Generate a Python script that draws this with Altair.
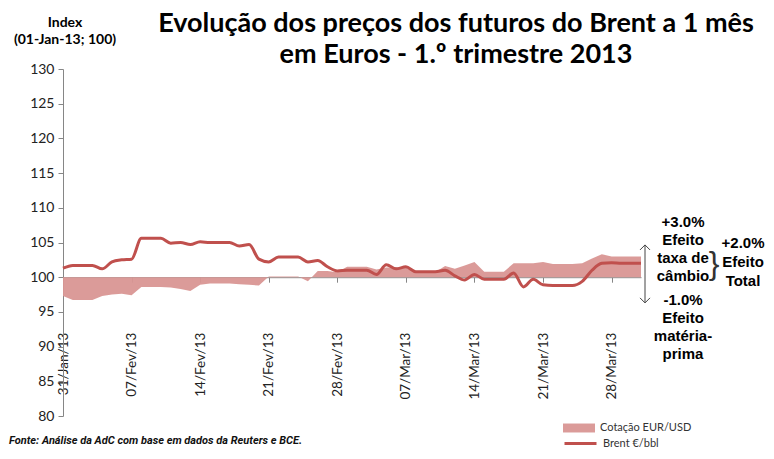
import altair as alt
import pandas as pd

# ---------------- data ----------------
dates = pd.date_range("2013-01-31", "2013-03-31", freq="D").strftime("%Y-%m-%d").tolist()

# Brent EUR/bbl index (01-Jan-13 = 100), daily; weekends repeat Friday's value
brent = [
    101.3, 101.7, 101.7, 101.7, 101.2, 102.2, 102.5, 102.6,   # 31 Jan - 07 Feb
    105.6, 105.6, 105.6, 104.9, 105.0, 104.7, 105.1,          # 08 Feb - 14 Feb
    105.0, 105.0, 105.0, 104.5, 104.7, 102.6, 102.2,          # 15 Feb - 21 Feb
    102.9, 102.9, 102.9, 102.2, 102.4, 101.5, 100.9,          # 22 Feb - 28 Feb
    101.0, 101.0, 101.0, 100.4, 101.8, 101.2, 101.5,          # 01 Mar - 07 Mar
    100.8, 100.8, 100.8, 101.0, 100.2, 99.6, 100.4,           # 08 Mar - 14 Mar
    99.7, 99.7, 99.7, 100.6, 98.6, 99.7, 98.9,                # 15 Mar - 21 Mar
    98.8, 98.8, 98.8, 99.4, 101.0, 102.0, 102.1,              # 22 Mar - 28 Mar
    102.0, 102.0, 102.0,                                      # 29 Mar - 31 Mar
]

# EUR/USD quote index (01-Jan-13 = 100)
eurusd = [
    97.3, 96.7, 96.7, 96.7, 97.3, 97.5, 97.6, 97.4,
    98.6, 98.6, 98.6, 98.5, 98.3, 98.0, 98.9,
    99.1, 99.1, 99.1, 99.0, 98.9, 98.8, 100.1,
    100.1, 100.1, 100.1, 99.4, 100.9, 100.9, 100.7,
    101.5, 101.5, 101.5, 101.1, 101.4, 101.4, 101.4,
    100.7, 100.7, 100.7, 101.6, 101.2, 101.7, 102.2,
    100.8, 100.8, 100.8, 102.0, 102.0, 102.0, 102.2,
    101.9, 101.9, 101.9, 102.0, 102.7, 103.3, 103.0,
    103.0, 103.0, 103.0,
]

tick_days = [(1, 31), (2, 7), (2, 14), (2, 21), (2, 28), (3, 7), (3, 14), (3, 21), (3, 28)]
y_ticks = [80, 85, 90, 95, 100, 105, 110, 115, 120, 125, 130]

series_area = "Cotação EUR/USD"
series_line = "Brent €/bbl"

title_lines = "Evolução dos preços dos futuros do Brent a 1 mês\nem Euros - 1.º trimestre 2013"
ytitle_lines = "Index\n(01-Jan-13; 100)"
fx_text = "+3.0%\nEfeito\ntaxa de\ncâmbio"
raw_text = "-1.0%\nEfeito\nmatéria-\nprima"
total_text = "+2.0%\nEfeito\nTotal"
source_text = "Fonte: Análise da AdC com base em dados da Reuters e BCE."

df = pd.DataFrame({"date": dates, "brent": brent, "eurusd": eurusd})
one = pd.DataFrame({"k": [0]})

W, H = 578, 347
RED = "#C0504D"
PINK = "#D99694"
AXIS_GREY = "#868686"

x_scale = alt.Scale(
    type="utc",
    domain=[alt.DateTime(year=2013, month=1, date=31, utc=True),
            alt.DateTime(year=2013, month=3, date=31, utc=True)],
)
y_scale = alt.Scale(domain=[80, 130], nice=False, zero=False)

x_axis = alt.Axis(
    values=[alt.DateTime(year=2013, month=m, date=d, utc=True) for m, d in tick_days],
    labelExpr="utcFormat(datum.value, '%d') + '/' + ['Jan','Fev','Mar','Abr'][utcmonth(datum.value)] + '/' + utcFormat(datum.value, '%y')",
    offset=-H * (100 - 80) / (130 - 80),
    domainColor=AXIS_GREY, tickColor=AXIS_GREY, tickSize=5,
    labelAngle=270, labelPadding=50, labelFont="Lato", labelFontSize=13.5,
    labelColor="#222222", labelOverlap=False, labelFlush=False,
    grid=False, title=None,
)
y_axis = alt.Axis(
    values=y_ticks, domainColor=AXIS_GREY, tickColor=AXIS_GREY, tickSize=5,
    labelFont="Lato", labelFontSize=14, labelColor="#222222", labelPadding=4,
    labelOverlap=False, labelFlush=False, grid=False, title=None,
)

X = alt.X("date:T", scale=x_scale, axis=x_axis)

area = alt.Chart(df).transform_calculate(s=f"'{series_area}'").mark_area(
    interpolate="linear", opacity=0.95
).encode(
    x=X,
    y=alt.Y("eurusd:Q", scale=y_scale, axis=y_axis),
    y2=alt.datum(100),
    fill=alt.Fill("s:N", scale=alt.Scale(domain=[series_area], range=[PINK]),
                  legend=alt.Legend(orient="none", legendX=500, legendY=343, title=None,
                                    symbolType="M-1,-0.28H1V0.28H-1Z", symbolSize=1024,
                                    symbolStrokeWidth=0, labelFont="Lato", labelFontSize=11,
                                    labelColor="#333333", labelOffset=5, padding=0)),
)

line = alt.Chart(df).transform_calculate(s2=f"'{series_line}'").mark_line(
    interpolate="monotone", strokeWidth=3
).encode(
    x=X,
    y=alt.Y("brent:Q", scale=y_scale, axis=y_axis),
    stroke=alt.Stroke("s2:N", scale=alt.Scale(domain=[series_line], range=[RED]),
                      legend=alt.Legend(orient="none", legendX=500, legendY=357, title=None,
                                        symbolType="stroke", symbolSize=1024,
                                        symbolStrokeWidth=3, labelFont="Lato", labelFontSize=11,
                                        labelColor="#333333", labelOffset=5, padding=0)),
)

# double-headed arrow at the right end of the plot
arrow_x = 582
arrow_top, arrow_bottom = 104.65, 96.3
arrow = alt.Chart(one).mark_rule(color="#444444", strokeWidth=1).encode(
    x=alt.value(arrow_x),
    y=alt.YDatum(arrow_top, type="quantitative", scale=y_scale, axis=y_axis),
    y2=alt.datum(arrow_bottom))
head_up = alt.Chart(one).mark_point(shape="M-1,1L0,0L1,1", size=100, filled=False,
                                    color="#444444", strokeWidth=1, opacity=1).encode(
    x=alt.value(arrow_x),
    y=alt.YDatum(arrow_top, type="quantitative", scale=y_scale, axis=y_axis))
head_dn = alt.Chart(one).mark_point(shape="M-1,-1L0,0L1,-1", size=100, filled=False,
                                    color="#444444", strokeWidth=1, opacity=1).encode(
    x=alt.value(arrow_x),
    y=alt.YDatum(arrow_bottom, type="quantitative", scale=y_scale, axis=y_axis))


def txt(text, x, y, size, font="Liberation Sans", weight="bold", align="center",
        baseline="alphabetic", lh=None, italic=False, color="#000000"):
    kw = dict(align=align, baseline=baseline, font=font, fontSize=size,
              fontWeight=weight, color=color, lineBreak="\n")
    if lh:
        kw["lineHeight"] = lh
    if italic:
        kw["fontStyle"] = "italic"
    return alt.Chart(one).mark_text(**kw).encode(
        x=alt.value(x), y=alt.value(y), text=alt.value(text))


title = txt(title_lines, 393, -37, 27, font="Lato", lh=31)
ytitle = txt(ytitle_lines, 2, -42, 14, font="Lato", lh=17)
fx = txt(fx_text, 620, 158, 15, lh=18)
raw = txt(raw_text, 620, 236, 15, lh=18)
total = txt(total_text, 680, 179, 15, lh=19)
brace = txt("}", 651, 195, 32, weight="normal", baseline="middle", color="#333333")
source = txt(source_text, -54, 375, 11, font="Roboto", align="left",
             italic=True, color="#111111")

chart = alt.layer(
    area, line, arrow, head_up, head_dn, title, ytitle, fx, raw, total, brace, source
).resolve_scale(fill="independent", stroke="independent").properties(
    width=W, height=H,
    autosize=alt.AutoSizeParams(type="none"),
    padding={"left": 55, "top": 61, "right": 125, "bottom": 32},
    background="white",
).configure_view(stroke=None)

chart.save("out.html", embed_options={"renderer": "svg", "actions": False})
